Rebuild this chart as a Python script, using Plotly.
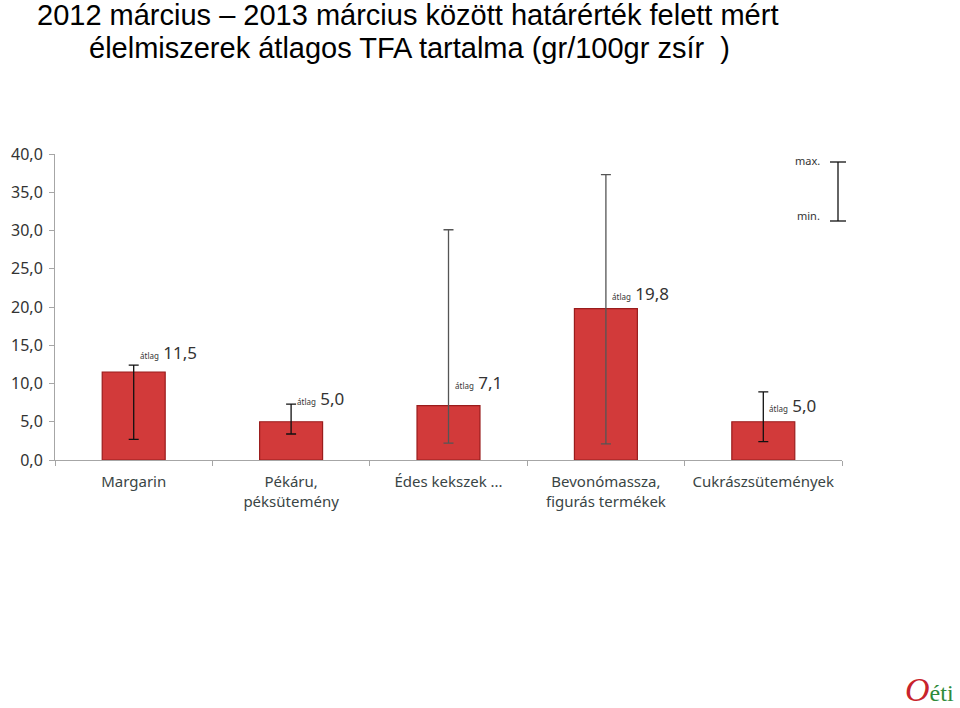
import plotly.graph_objects as go

categories = ["Margarin", "Pékáru,<br>péksütemény", "Édes kekszek ...",
              "Bevonómassza,<br>figurás termékek", "Cukrászsütemények"]
mean_vals = [11.5, 5.0, 7.1, 19.8, 5.0]
max_vals = [12.4, 7.3, 30.1, 37.3, 8.9]
min_vals = [2.7, 3.4, 2.2, 2.1, 2.4]
mean_labels = ["11,5", "5,0", "7,1", "19,8", "5,0"]
label_offset = [2.6, 3.1, 3.0, 2.0, 2.1]
err_color = ["#111111", "#111111", "#555555", "#555555", "#111111"]

title_lines = ["2012 március – 2013 március között határérték felett mért",
               "élelmiszerek átlagos TFA tartalma (gr/100gr zsír  )"]

FONT = "Noto Sans, Open Sans, sans-serif"

# plot area in pixels (for converting figure positions to paper coords)
PL, PR, PT, PB = 55, 842, 154, 460
PW, PH = PR - PL, PB - PT


def px(x):
    return (x - PL) / PW


def py(y):
    return (PB - y) / PH


fig = go.Figure()
fig.add_trace(go.Bar(
    x=categories, y=mean_vals, width=0.4,
    marker=dict(color="#d23a3a", line=dict(color="#9a1c1c", width=1.2)),
    showlegend=False, hoverinfo="skip"))

for i, c in enumerate(categories):
    fig.add_trace(go.Scatter(
        x=[c], y=[mean_vals[i]], mode="markers",
        marker=dict(size=1, opacity=0),
        error_y=dict(type="data", symmetric=False,
                     array=[max_vals[i] - mean_vals[i]],
                     arrayminus=[mean_vals[i] - min_vals[i]],
                     color=err_color[i], thickness=1.3, width=5),
        showlegend=False, hoverinfo="skip"))

for i, c in enumerate(categories):
    fig.add_annotation(
        x=c, y=mean_vals[i] + label_offset[i], xref="x", yref="y",
        text="<span style='font-size:8px'>átlag</span> " + mean_labels[i],
        showarrow=False, xanchor="left", yanchor="middle", xshift=4,
        font=dict(family=FONT, size=17, color="#333333"))

# legend for error bar
lx = px(838)
fig.add_shape(type="line", xref="paper", yref="paper", x0=lx, x1=lx,
              y0=py(162), y1=py(221), line=dict(color="#111111", width=1.3))
for yy in [py(162), py(221)]:
    fig.add_shape(type="line", xref="paper", yref="paper", x0=px(830), x1=px(846),
                  y0=yy, y1=yy, line=dict(color="#111111", width=1.3))
fig.add_annotation(x=px(822), y=py(160), xref="paper", yref="paper",
                   text="max.", showarrow=False, xanchor="right", yanchor="middle",
                   font=dict(family=FONT, size=11, color="#333333"))
fig.add_annotation(x=px(822), y=py(215), xref="paper", yref="paper",
                   text="min.", showarrow=False, xanchor="right", yanchor="middle",
                   font=dict(family=FONT, size=11, color="#333333"))

# title (two lines, tight spacing)
for txt, cx, cy in zip(title_lines, [407, 409], [15, 48]):
    fig.add_annotation(x=px(cx), y=py(cy), xref="paper", yref="paper",
                       text=txt, showarrow=False, xanchor="center", yanchor="middle",
                       font=dict(family="Liberation Sans, Arial, sans-serif", size=29,
                                 color="#000000"))
# logo
fig.add_annotation(x=px(903), y=py(689), xref="paper", yref="paper",
                   text="<i><span style='color:#c8232c;font-size:34px'>O</span></i>"
                        "<span style='color:#2e8b3a;font-size:24px'>éti</span>",
                   showarrow=False, xanchor="left", yanchor="middle",
                   font=dict(family="Liberation Serif, serif", size=24))

fig.update_layout(
    width=960, height=708,
    margin=dict(l=PL, r=960 - PR, t=PT, b=708 - PB),
    paper_bgcolor="white", plot_bgcolor="white",
    separators=",.",
    xaxis=dict(showline=True, linecolor="#a6a6a6", linewidth=1,
               ticks="outside", tickson="boundaries", ticklen=5, tickcolor="#a6a6a6",
               tickfont=dict(family=FONT, size=15, color="#3a4545"),
               tickangle=0, ticklabelstandoff=8,
               showgrid=False, fixedrange=True),
    yaxis=dict(range=[0, 40], dtick=5, tickformat=".1f",
               showline=True, linecolor="#a6a6a6", linewidth=1,
               ticks="outside", ticklen=5, tickcolor="#a6a6a6",
               tickfont=dict(family=FONT, size=16, color="#333333"),
               ticklabelstandoff=3,
               showgrid=False, zeroline=False, fixedrange=True),
)

fig.write_html("out.html")
